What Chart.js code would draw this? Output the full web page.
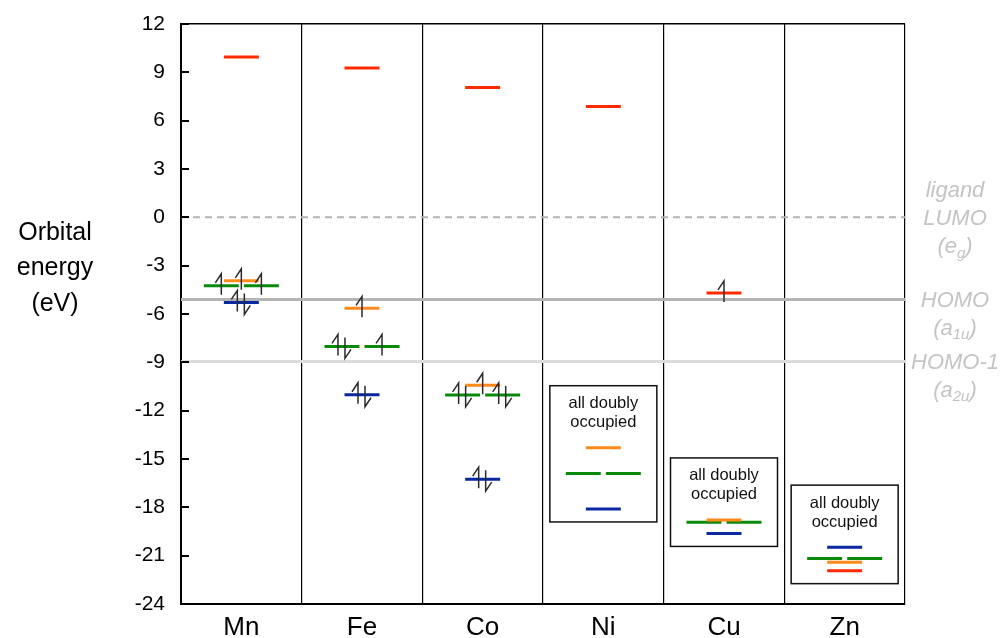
<!DOCTYPE html>
<html>
<head>
<meta charset="utf-8">
<script src="https://cdn.jsdelivr.net/npm/chart.js@4.4.1/dist/chart.umd.min.js"></script>
<style>
    html, body { margin: 0; padding: 0; background: #ffffff; }
</style>
</head>
<body>
<canvas id="myChart" width="1001" height="638"></canvas>
<script>
// --- data ---
const metals = ['Mn', 'Fe', 'Co', 'Ni', 'Cu', 'Zn'];
const yTicks = [12, 9, 6, 3, 0, -3, -6, -9, -12, -15, -18, -21, -24];

// d-orbital energies (eV) per metal
const redLevels    = [9.95, 9.27, 8.06, 6.88, -4.69, -21.93];
const orangeLevels = [-3.94, -5.65, -10.42, -14.30, -18.78, -21.41];
const greenLevels  = [-4.25, -8.01, -11.02, -15.90, -18.93, -21.17];
const blueLevels   = [-5.28, -11.01, -16.25, -18.10, -19.62, -20.47];

// occupation: '' empty, 'up' one electron, 'pair' two, 'box' = inside "all doubly occupied"
const redElectrons        = ['', '', '', '', 'up', 'box'];
const orangeElectrons     = ['up', 'up', 'up', 'box', 'box', 'box'];
const greenLeftElectrons  = ['up', 'pair', 'pair', 'box', 'box', 'box'];
const greenRightElectrons = ['up', 'up', 'pair', 'box', 'box', 'box'];
const blueElectrons       = ['pair', 'pair', 'pair', 'box', 'box', 'box'];

// ligand reference levels
const refLevels = [0, -5.1, -8.95];
const refLabels = [['ligand', 'LUMO', '(e_g)'], ['HOMO', '(a_1u)'], ['HOMO-1', '(a_2u)']];
const refAnchorLine = [1, 0, 0];

// --- styling ---
const HALF = 0.145;        // half length of an orbital bar (x units)
const SPLIT = 0.166;       // offset of the two degenerate e orbitals
const FONT = "'Liberation Sans', Arial, sans-serif";

const levelSets = [
    { color: '#ff2a00', values: redLevels, electrons: [redElectrons] },
    { color: '#ff8a1c', values: orangeLevels, electrons: [orangeElectrons] },
    { color: '#0a8a0a', values: greenLevels, electrons: [greenLeftElectrons, greenRightElectrons] },
    { color: '#0a28a0', values: blueLevels, electrons: [blueElectrons] }
];
const refStyles = [
    { color: '#b4b4b4', width: 2, dash: [7, 5] },
    { color: '#b4b4b4', width: 3, dash: [] },
    { color: '#dcdcdc', width: 3, dash: [] }
];

function _Centres(i, split) {
    return split ? [i + 0.5 - SPLIT, i + 0.5 + SPLIT] : [i + 0.5];
}

function _SegmentPoints(set) {
    let pts = [];
    set.values.forEach((v, i) => {
        _Centres(i, set.electrons.length > 1).forEach(c => {
            pts.push({ x: c - HALF, y: v }, { x: c + HALF, y: v }, { x: c + HALF, y: null });
        });
    });
    return pts;
}

let datasets = levelSets.map(set => ({
    type: 'line',
    data: _SegmentPoints(set),
    borderColor: set.color,
    borderWidth: 3,
    pointRadius: 0,
    spanGaps: false,
    order: 1
}));

refLevels.forEach((v, i) => {
    datasets.push({
        type: 'line',
        data: [{ x: 0, y: v }, { x: metals.length, y: v }],
        borderColor: refStyles[i].color,
        borderWidth: refStyles[i].width,
        borderDash: refStyles[i].dash,
        pointRadius: 0,
        order: 2
    });
});

// --- electrons as half-arrows ---
function _DrawUp(ctx, x, y) {
    ctx.beginPath();
    ctx.moveTo(x, y + 9);
    ctx.lineTo(x, y - 12);
    ctx.lineTo(x - 6, y - 3);
    ctx.stroke();
}

function _DrawDown(ctx, x, y) {
    ctx.beginPath();
    ctx.moveTo(x, y - 9);
    ctx.lineTo(x, y + 12);
    ctx.lineTo(x + 6, y + 3);
    ctx.stroke();
}

const electronPlugin = {
    id: 'electrons',
    afterDatasetsDraw(chart) {
        const ctx = chart.ctx;
        const xs = chart.scales.x, ys = chart.scales.y;
        ctx.save();
        ctx.strokeStyle = '#2a2a2a';
        ctx.lineWidth = 1.5;
        levelSets.forEach(set => {
            set.values.forEach((v, i) => {
                _Centres(i, set.electrons.length > 1).forEach((c, k) => {
                    let code = set.electrons[k][i];
                    let px = xs.getPixelForValue(c), py = ys.getPixelForValue(v);
                    if (code === 'up') _DrawUp(ctx, px, py);
                    if (code === 'pair') {
                        _DrawUp(ctx, px - 4, py);
                        _DrawDown(ctx, px + 3, py);
                    }
                });
            });
        });
        ctx.restore();
    }
};

// --- "all doubly occupied" boxes ---
const boxPlugin = {
    id: 'boxes',
    afterDatasetsDraw(chart) {
        const ctx = chart.ctx;
        const xs = chart.scales.x, ys = chart.scales.y;
        ctx.save();
        metals.forEach((m, i) => {
            let vals = [];
            levelSets.forEach(set => {
                if (set.electrons[0][i] === 'box') vals.push(set.values[i]);
            });
            if (!vals.length) return;
            let top = ys.getPixelForValue(Math.max(...vals)) - 62;
            let bottom = ys.getPixelForValue(Math.min(...vals)) + 13;
            let cx = xs.getPixelForValue(i + 0.5);
            ctx.strokeStyle = '#111';
            ctx.lineWidth = 1.5;
            ctx.strokeRect(cx - 53.5, top, 107, bottom - top);
            ctx.fillStyle = '#111';
            ctx.font = '16.5px ' + FONT;
            ctx.textAlign = 'center';
            ctx.textBaseline = 'middle';
            ctx.fillText('all doubly', cx, top + 18);
            ctx.fillText('occupied', cx, top + 37);
        });
        ctx.restore();
    }
};

// --- y title, inward ticks, right-hand labels ---
function _LabelParts(str) {
    let m = str.match(/^(.*)_([^)]*)(\).*)$/);
    if (!m) return [[str, false]];
    return [[m[1], false], [m[2], true], [m[3], false]];
}

const textPlugin = {
    id: 'texts',
    afterDraw(chart) {
        const ctx = chart.ctx;
        const area = chart.chartArea;
        const ys = chart.scales.y;
        ctx.save();

        // inward tick marks
        ctx.strokeStyle = '#000';
        ctx.lineWidth = 2;
        yTicks.forEach(t => {
            let py = Math.round(ys.getPixelForValue(t));
            ctx.beginPath();
            ctx.moveTo(area.left, py);
            ctx.lineTo(area.left + 8, py);
            ctx.stroke();
        });

        // axis title
        ctx.fillStyle = '#000';
        ctx.font = '25px ' + FONT;
        ctx.textAlign = 'center';
        ctx.textBaseline = 'middle';
        ['Orbital', 'energy', '(eV)'].forEach((t, k) => ctx.fillText(t, 55, 233 + k * 35.5));

        // reference labels
        ctx.fillStyle = '#c4c4c4';
        ctx.textAlign = 'left';
        refLevels.forEach((v, i) => {
            let base = ys.getPixelForValue(v) + 1 - refAnchorLine[i] * 27;
            refLabels[i].forEach((line, k) => {
                let parts = _LabelParts(line);
                let widths = parts.map(p => {
                    ctx.font = 'italic ' + (p[1] ? 15 : 22) + 'px ' + FONT;
                    return ctx.measureText(p[0]).width;
                });
                let x = 955 - widths.reduce((a, b) => a + b, 0) / 2;
                let y = base + k * 27.5 + (k > 0 && parts.length > 1 ? 1 : 0);
                parts.forEach((p, j) => {
                    ctx.font = 'italic ' + (p[1] ? 15 : 22) + 'px ' + FONT;
                    ctx.fillText(p[0], x, y + (p[1] ? 6 : 0));
                    x += widths[j];
                });
            });
        });
        ctx.restore();
    }
};

const config = {
    data: { datasets: datasets },
    options: {
        responsive: false,
        animation: false,
        layout: { padding: { top: 24, right: 96, left: 0, bottom: 0 } },
        plugins: {
            legend: { display: false },
            tooltip: { enabled: false }
        },
        scales: {
            x: {
                type: 'linear',
                min: 0,
                max: metals.length,
                display: false
            },
            cat: {
                type: 'category',
                axis: 'x',
                position: 'bottom',
                labels: metals,
                offset: true,
                grid: {
                    offset: true,
                    color: '#000',
                    lineWidth: 1.2,
                    drawTicks: false
                },
                border: { color: '#000', width: 2 },
                ticks: {
                    font: { size: 26, family: FONT },
                    color: '#000',
                    padding: 8
                },
                afterFit: s => { s.height = 34; }
            },
            y: {
                type: 'linear',
                min: -24,
                max: 12,
                afterBuildTicks: s => { s.ticks = yTicks.map(v => ({ value: v })); },
                grid: {
                    drawTicks: false,
                    color: c => (c.tick && c.tick.value === 12 ? '#000' : 'rgba(0,0,0,0)'),
                    lineWidth: 1.5
                },
                border: { color: '#000', width: 2 },
                ticks: {
                    font: { size: 21, family: FONT },
                    color: '#000',
                    padding: 16
                },
                afterFit: s => {
                    s.width = 181;
                    s.paddingTop = 0;
                    s.paddingBottom = 0;
                }
            }
        }
    },
    plugins: [electronPlugin, boxPlugin, textPlugin]
};

let canvas = document.getElementById('myChart');
let myChart = new Chart(canvas.getContext('2d'), config);
</script>
</body>
</html>
